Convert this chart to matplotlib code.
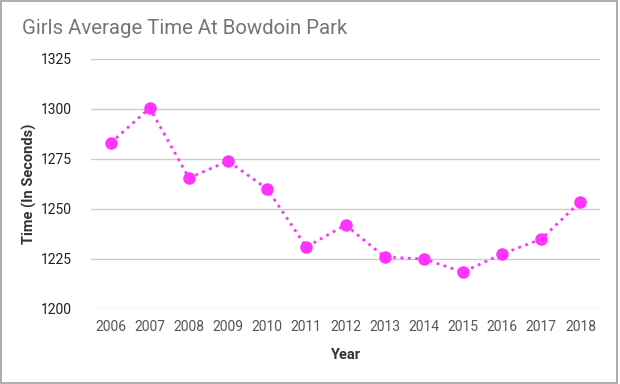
import matplotlib
matplotlib.use("Agg")
import matplotlib.pyplot as plt
from matplotlib.patches import Rectangle

years = ["2006", "2007", "2008", "2009", "2010", "2011", "2012",
         "2013", "2014", "2015", "2016", "2017", "2018"]
times = [1283, 1300.5, 1265.5, 1274, 1260, 1231, 1242,
         1226, 1225, 1218.5, 1227.5, 1235, 1253.7]
yticks = [1200, 1225, 1250, 1275, 1300, 1325]

plt.rcParams['font.family'] = ['Roboto', 'DejaVu Sans']

W, H = 620, 384
fig = plt.figure(figsize=(W / 100, H / 100), dpi=100)
ax = fig.add_axes([91 / W, 1 - 309 / H, (600 - 91) / W, (309 - 59) / H])

x = list(range(len(years)))
ax.plot(x, times, linestyle=':', color='#ff33ff', linewidth=2,
        marker='o', markersize=8, markerfacecolor='#ff33ff',
        markeredgecolor='#ff33ff', zorder=3)

ax.set_xlim(-0.5, len(years) - 0.5)
ax.set_ylim(1200, 1325)
ax.set_yticks(yticks)
ax.set_yticklabels([str(v) for v in yticks], color='#222222', fontsize=10)
ax.set_xticks(x)
ax.set_xticklabels(years, color='#555555', fontsize=10)
ax.tick_params(length=0, pad=8)
ax.tick_params(axis='y', pad=14)
ax.grid(axis='y', color='#cccccc', linewidth=1)
ax.set_axisbelow(True)
for s in ax.spines.values():
    s.set_visible(False)

fig.text(22 / W, 1 - 29 / H, "Girls Average Time At Bowdoin Park",
         fontsize=14.7, color='#757575', va='center', ha='left')
fig.text(29 / W, 1 - 184 / H, "Time (In Seconds)", rotation=90,
         fontsize=10.5, fontweight='bold', color='#333333',
         va='center', ha='center')
fig.text(345 / W, 1 - 355 / H, "Year", fontsize=10.5, fontweight='bold',
         color='#333333', va='center', ha='center')

fig.patches.append(Rectangle((1 / W, 1 / H), 615.5 / W, 1 - 1.5 / H,
                             transform=fig.transFigure, fill=False,
                             edgecolor='#9e9e9e', linewidth=1.2))

fig.savefig("out.png", dpi=100)
